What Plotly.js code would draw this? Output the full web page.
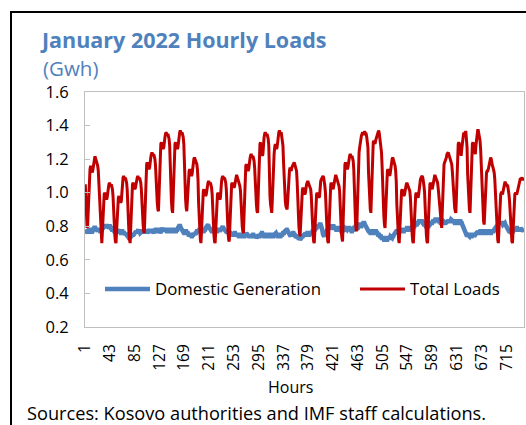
<!DOCTYPE html>
<html><head><meta charset="utf-8">
<script src="https://cdn.plot.ly/plotly-3.0.1.min.js"></script>
<style>
html,body{margin:0;padding:0;background:#fff;}
#wrap{position:relative;width:526px;height:425px;overflow:hidden;}
#chart{position:absolute;left:0;top:0;width:526px;height:425px;}
#frame{position:absolute;left:10px;top:11px;width:600px;height:600px;border-left:2px solid #000;border-top:2px solid #000;pointer-events:none;}
</style></head><body>
<div id="wrap"><div id="chart"></div><div id="frame"></div></div>
<script>
// Tick labels on the hour axis
const hourTicks = [1,43,85,127,169,211,253,295,337,379,421,463,505,547,589,631,673,715];
const yTicks = [0.2,0.4,0.6,0.8,1.0,1.2,1.4,1.6];

// Total Loads (GWh), one row of 24 hourly values per day of January 2022
const totalLoadsByDay = [
[1.05,0.94,0.84,0.79,0.81,0.92,1.05,1.12,1.14,1.16,1.15,1.13,1.12,1.14,1.17,1.19,1.21,1.21,1.20,1.18,1.17,1.16,1.13,1.06],
[0.92,0.84,0.77,0.72,0.70,0.77,0.87,0.95,0.99,1.00,0.99,0.97,0.96,0.97,1.01,1.03,1.05,1.06,1.05,1.04,1.05,1.04,1.02,0.98],
[0.87,0.81,0.75,0.71,0.70,0.77,0.86,0.93,0.97,0.98,0.97,0.95,0.94,0.95,1.03,1.07,1.09,1.10,1.09,1.08,1.09,1.08,1.06,1.02],
[0.90,0.82,0.76,0.72,0.70,0.79,0.91,1.01,1.05,1.06,1.05,1.03,1.02,1.03,1.07,1.07,1.09,1.10,1.09,1.08,1.09,1.08,1.06,1.02],
[0.92,0.86,0.81,0.77,0.76,0.86,1.01,1.13,1.17,1.18,1.17,1.15,1.14,1.15,1.20,1.21,1.23,1.24,1.23,1.22,1.23,1.22,1.20,1.16],
[1.06,0.99,0.94,0.90,0.89,0.99,1.13,1.25,1.29,1.30,1.29,1.27,1.26,1.27,1.32,1.33,1.35,1.36,1.35,1.34,1.35,1.34,1.32,1.28],
[1.13,1.03,0.95,0.90,0.88,0.98,1.13,1.25,1.29,1.30,1.29,1.27,1.26,1.27,1.32,1.34,1.36,1.37,1.36,1.35,1.36,1.35,1.33,1.29],
[1.14,1.04,0.96,0.91,0.89,0.95,1.03,1.09,1.13,1.14,1.13,1.11,1.10,1.11,1.16,1.18,1.20,1.21,1.20,1.19,1.18,1.17,1.14,1.08],
[0.94,0.84,0.77,0.72,0.70,0.78,0.89,0.97,1.01,1.02,1.01,0.99,0.98,0.99,1.03,1.04,1.06,1.07,1.06,1.05,1.06,1.05,1.03,0.99],
[0.88,0.81,0.75,0.71,0.70,0.77,0.87,0.95,0.99,1.00,0.99,0.97,0.96,0.97,1.04,1.07,1.09,1.10,1.09,1.08,1.09,1.08,1.06,1.02],
[0.90,0.82,0.76,0.72,0.71,0.80,0.92,1.01,1.05,1.06,1.05,1.04,1.03,1.04,1.07,1.08,1.10,1.10,1.09,1.08,1.07,1.06,1.04,1.01],
[0.92,0.86,0.80,0.77,0.76,0.86,1.00,1.12,1.16,1.17,1.16,1.14,1.13,1.14,1.19,1.20,1.22,1.23,1.22,1.21,1.22,1.21,1.19,1.15],
[1.05,0.98,0.93,0.89,0.88,0.98,1.13,1.25,1.29,1.30,1.28,1.24,1.22,1.23,1.31,1.33,1.35,1.36,1.35,1.34,1.35,1.34,1.32,1.28],
[1.05,0.98,0.93,0.89,0.88,0.96,1.10,1.20,1.23,1.27,1.29,1.28,1.26,1.27,1.32,1.35,1.36,1.37,1.36,1.35,1.36,1.34,1.32,1.28],
[1.18,1.08,1.00,0.95,0.92,0.91,0.90,0.95,1.03,1.10,1.13,1.15,1.14,1.13,1.15,1.16,1.17,1.18,1.18,1.17,1.16,1.15,1.13,1.07],
[0.95,0.87,0.80,0.76,0.74,0.81,0.91,0.98,1.02,1.03,1.02,1.00,0.99,1.00,1.04,1.05,1.06,1.07,1.06,1.05,1.05,1.04,1.02,0.98],
[0.87,0.81,0.75,0.71,0.70,0.77,0.87,0.95,0.99,1.00,0.99,0.98,0.97,0.98,1.04,1.07,1.08,1.09,1.10,1.10,1.09,1.07,1.04,1.00],
[0.89,0.81,0.75,0.71,0.70,0.79,0.91,1.01,1.05,1.06,1.05,1.03,1.02,1.04,1.07,1.08,1.10,1.10,1.09,1.08,1.07,1.06,1.04,1.01],
[0.90,0.82,0.76,0.73,0.71,0.83,0.99,1.13,1.17,1.18,1.17,1.15,1.14,1.15,1.19,1.20,1.22,1.23,1.22,1.21,1.22,1.21,1.19,1.14],
[0.97,0.89,0.82,0.78,0.77,0.90,1.08,1.20,1.24,1.27,1.30,1.31,1.34,1.35,1.36,1.35,1.35,1.36,1.36,1.35,1.35,1.33,1.31,1.27],
[1.12,1.02,0.95,0.90,0.88,0.99,1.15,1.27,1.30,1.31,1.30,1.29,1.31,1.32,1.34,1.35,1.36,1.37,1.36,1.33,1.30,1.28,1.24,1.16],
[1.02,0.93,0.86,0.81,0.79,0.88,1.00,1.09,1.13,1.14,1.13,1.11,1.10,1.12,1.16,1.18,1.20,1.21,1.20,1.18,1.17,1.16,1.13,1.07],
[0.93,0.84,0.77,0.72,0.70,0.78,0.89,0.97,1.01,1.02,1.01,0.99,0.98,0.99,1.02,1.04,1.05,1.06,1.05,1.04,1.04,1.03,1.01,0.97],
[0.87,0.80,0.75,0.71,0.70,0.77,0.87,0.95,0.99,1.00,0.99,0.98,0.97,0.99,1.04,1.07,1.08,1.09,1.10,1.10,1.09,1.07,1.04,1.00],
[0.89,0.81,0.75,0.71,0.70,0.79,0.91,1.01,1.05,1.06,1.05,1.03,1.02,1.04,1.07,1.09,1.10,1.10,1.09,1.08,1.08,1.06,1.03,0.99],
[0.94,0.87,0.83,0.80,0.79,0.89,1.03,1.13,1.17,1.18,1.19,1.19,1.21,1.23,1.24,1.24,1.23,1.22,1.21,1.20,1.19,1.17,1.13,1.07],
[0.99,0.94,0.91,0.89,0.88,0.98,1.13,1.25,1.29,1.30,1.29,1.26,1.23,1.22,1.26,1.31,1.34,1.35,1.35,1.36,1.36,1.36,1.33,1.27],
[1.11,1.02,0.95,0.90,0.88,0.98,1.13,1.25,1.29,1.30,1.28,1.25,1.23,1.23,1.28,1.33,1.36,1.37,1.37,1.35,1.33,1.31,1.26,1.17],
[1.03,0.94,0.87,0.83,0.81,0.88,0.99,1.08,1.12,1.13,1.13,1.14,1.16,1.17,1.19,1.21,1.20,1.17,1.16,1.15,1.14,1.12,1.08,1.01],
[0.90,0.82,0.76,0.72,0.70,0.78,0.88,0.96,0.99,1.00,1.00,0.99,1.01,1.03,1.05,1.06,1.06,1.05,1.04,1.04,1.04,1.02,0.99,0.95],
[0.87,0.80,0.75,0.71,0.70,0.77,0.87,0.95,0.99,1.00,0.99,0.99,1.00,1.02,1.04,1.06,1.07,1.08,1.08,1.09,1.09,1.08,1.08,1.09]
];

// Domestic Generation (GWh), one row of 24 hourly values per day
const domesticByDay = [
[0.78,0.77,0.77,0.76,0.76,0.77,0.77,0.78,0.78,0.77,0.77,0.76,0.77,0.78,0.79,0.79,0.80,0.79,0.78,0.78,0.77,0.77,0.78,0.78],
[0.78,0.77,0.77,0.78,0.78,0.79,0.79,0.80,0.80,0.80,0.79,0.80,0.81,0.80,0.80,0.79,0.79,0.80,0.80,0.79,0.79,0.78,0.78,0.78],
[0.78,0.77,0.77,0.78,0.77,0.77,0.76,0.77,0.78,0.78,0.77,0.77,0.76,0.76,0.77,0.77,0.76,0.76,0.76,0.75,0.76,0.76,0.75,0.75],
[0.74,0.74,0.73,0.73,0.74,0.74,0.74,0.75,0.74,0.75,0.75,0.76,0.76,0.77,0.77,0.76,0.77,0.77,0.78,0.77,0.77,0.76,0.77,0.77],
[0.77,0.77,0.76,0.76,0.77,0.78,0.78,0.77,0.77,0.76,0.77,0.77,0.78,0.78,0.77,0.77,0.78,0.77,0.77,0.76,0.76,0.77,0.77,0.78],
[0.78,0.77,0.77,0.78,0.78,0.77,0.77,0.76,0.77,0.78,0.78,0.79,0.78,0.77,0.77,0.78,0.78,0.78,0.77,0.77,0.78,0.78,0.77,0.77],
[0.77,0.77,0.78,0.78,0.77,0.77,0.78,0.78,0.78,0.77,0.77,0.78,0.78,0.79,0.79,0.80,0.81,0.80,0.79,0.78,0.78,0.77,0.77,0.76],
[0.76,0.76,0.77,0.77,0.76,0.76,0.76,0.75,0.75,0.74,0.75,0.75,0.74,0.74,0.75,0.75,0.76,0.75,0.75,0.76,0.76,0.77,0.77,0.77],
[0.77,0.78,0.78,0.77,0.77,0.78,0.78,0.78,0.77,0.77,0.78,0.78,0.79,0.79,0.80,0.81,0.81,0.80,0.79,0.78,0.78,0.78,0.77,0.77],
[0.77,0.77,0.78,0.78,0.77,0.78,0.78,0.77,0.77,0.78,0.78,0.78,0.77,0.78,0.78,0.79,0.80,0.80,0.79,0.78,0.78,0.77,0.77,0.77],
[0.76,0.76,0.77,0.77,0.76,0.76,0.76,0.75,0.76,0.76,0.75,0.75,0.75,0.76,0.76,0.75,0.75,0.74,0.75,0.75,0.74,0.74,0.75,0.75],
[0.74,0.74,0.75,0.75,0.74,0.74,0.74,0.75,0.75,0.76,0.75,0.75,0.74,0.74,0.74,0.75,0.75,0.74,0.74,0.74,0.75,0.75,0.74,0.74],
[0.74,0.74,0.73,0.74,0.74,0.75,0.75,0.74,0.74,0.75,0.75,0.76,0.76,0.75,0.75,0.74,0.74,0.74,0.75,0.75,0.74,0.74,0.74,0.75],
[0.75,0.74,0.74,0.74,0.75,0.75,0.74,0.74,0.75,0.76,0.76,0.76,0.75,0.75,0.74,0.74,0.75,0.75,0.74,0.74,0.75,0.75,0.75,0.76],
[0.76,0.76,0.77,0.78,0.78,0.78,0.78,0.77,0.76,0.75,0.75,0.74,0.74,0.75,0.75,0.75,0.76,0.76,0.75,0.75,0.74,0.74,0.74,0.73],
[0.74,0.73,0.73,0.73,0.72,0.73,0.73,0.74,0.74,0.74,0.75,0.75,0.76,0.76,0.75,0.75,0.76,0.76,0.76,0.75,0.75,0.76,0.76,0.76],
[0.76,0.77,0.77,0.78,0.78,0.78,0.79,0.79,0.79,0.80,0.80,0.80,0.80,0.81,0.81,0.81,0.80,0.79,0.77,0.75,0.74,0.74,0.75,0.76],
[0.77,0.78,0.78,0.79,0.79,0.80,0.80,0.80,0.80,0.80,0.79,0.79,0.80,0.80,0.79,0.79,0.79,0.78,0.78,0.79,0.79,0.79,0.78,0.78],
[0.78,0.78,0.77,0.77,0.77,0.78,0.78,0.78,0.79,0.78,0.78,0.78,0.79,0.79,0.79,0.79,0.79,0.78,0.78,0.77,0.77,0.78,0.78,0.79],
[0.79,0.79,0.80,0.80,0.80,0.79,0.79,0.80,0.80,0.81,0.81,0.80,0.80,0.81,0.81,0.82,0.82,0.82,0.81,0.80,0.80,0.79,0.78,0.78],
[0.77,0.77,0.77,0.76,0.76,0.77,0.77,0.77,0.76,0.76,0.77,0.77,0.77,0.77,0.76,0.76,0.75,0.75,0.75,0.74,0.74,0.74,0.73,0.73],
[0.73,0.73,0.72,0.72,0.73,0.73,0.73,0.72,0.72,0.73,0.73,0.73,0.73,0.74,0.73,0.73,0.73,0.74,0.74,0.75,0.76,0.76,0.77,0.77],
[0.77,0.77,0.77,0.78,0.78,0.77,0.77,0.77,0.78,0.78,0.78,0.77,0.77,0.78,0.78,0.78,0.78,0.79,0.79,0.78,0.78,0.78,0.79,0.79],
[0.79,0.79,0.80,0.80,0.80,0.80,0.80,0.81,0.81,0.81,0.81,0.82,0.82,0.83,0.83,0.83,0.83,0.83,0.83,0.83,0.82,0.82,0.81,0.81],
[0.81,0.80,0.80,0.80,0.80,0.80,0.80,0.81,0.81,0.82,0.82,0.82,0.82,0.83,0.83,0.83,0.83,0.84,0.84,0.84,0.84,0.84,0.84,0.83],
[0.83,0.83,0.82,0.82,0.82,0.82,0.82,0.83,0.82,0.82,0.82,0.82,0.83,0.83,0.83,0.83,0.83,0.83,0.83,0.83,0.84,0.83,0.83,0.83],
[0.83,0.83,0.82,0.82,0.83,0.83,0.83,0.83,0.82,0.82,0.83,0.83,0.83,0.82,0.82,0.81,0.80,0.78,0.77,0.76,0.75,0.75,0.74,0.74],
[0.75,0.74,0.74,0.74,0.75,0.75,0.74,0.74,0.75,0.75,0.75,0.74,0.75,0.75,0.76,0.76,0.76,0.77,0.77,0.76,0.76,0.77,0.77,0.77],
[0.77,0.77,0.76,0.76,0.77,0.77,0.77,0.77,0.76,0.76,0.77,0.77,0.77,0.77,0.77,0.76,0.76,0.77,0.77,0.77,0.77,0.78,0.78,0.79],
[0.79,0.80,0.81,0.81,0.81,0.82,0.82,0.82,0.82,0.82,0.82,0.82,0.81,0.82,0.82,0.82,0.81,0.80,0.79,0.78,0.77,0.77,0.77,0.77],
[0.76,0.76,0.76,0.76,0.77,0.77,0.77,0.78,0.78,0.78,0.78,0.79,0.79,0.78,0.78,0.78,0.78,0.78,0.79,0.78,0.78,0.78,0.77,0.78]
];

const totalLoads = totalLoadsByDay.flat();
const domestic = domesticByDay.flat();
const hours = totalLoads.map((v, i) => i + 1);

const FONT = '"Open Sans", "Noto Sans", sans-serif';
const L = 85, R = 2, T = 92, B = 98;
const W = 526 - L - R, H = 425 - T - B;
const px = x => (x - L) / W;
const py = y => (425 - B - y) / H;

const traces = [
  {x: hours, y: domestic, type: 'scatter', mode: 'lines', name: 'Domestic Generation',
   line: {color: '#4F81BD', width: 4.5}, legend: 'legend'},
  {x: hours, y: totalLoads, type: 'scatter', mode: 'lines', name: 'Total Loads',
   line: {color: '#C00000', width: 3}, legend: 'legend2'}
];

const legendStyle = {orientation: 'h', xanchor: 'left', yanchor: 'middle',
  font: {size: 16.8, family: FONT, color: '#000'}, bgcolor: 'rgba(0,0,0,0)', itemwidth: 45};

const layout = {
  width: 526, height: 425,
  margin: {l: L, r: R, t: T, b: B, pad: 0},
  paper_bgcolor: '#fff', plot_bgcolor: '#fff',
  font: {family: FONT, color: '#000', size: 16},
  showlegend: true,
  legend: Object.assign({}, legendStyle, {x: px(100), y: py(289)}),
  legend2: Object.assign({}, legendStyle, {x: px(355), y: py(289)}),
  xaxis: {range: [0.5, 744.5], tickmode: 'array', tickvals: hourTicks,
          ticktext: hourTicks.map(String), tickangle: -90,
          showline: true, linecolor: '#BFBFBF', linewidth: 1, mirror: true,
          ticks: '', showgrid: false, zeroline: false, ticklabelstandoff: 10,
          tickfont: {size: 15.5, family: FONT, color: '#000'}},
  yaxis: {range: [0.2, 1.6], tickmode: 'array', tickvals: yTicks,
          ticktext: yTicks.map(v => v.toFixed(1)),
          showline: true, linecolor: '#BFBFBF', linewidth: 1, mirror: true,
          ticks: 'inside', ticklen: 5, tickcolor: '#BFBFBF',
          showgrid: false, zeroline: false, ticklabelstandoff: 12,
          tickfont: {size: 16.5, family: FONT, color: '#000'}},
  annotations: [
    {text: '<b>January 2022 Hourly Loads</b>', xref: 'paper', yref: 'paper',
     x: px(38), y: py(39), xanchor: 'left', yanchor: 'middle', showarrow: false,
     font: {size: 21.5, family: FONT, color: '#4F81BD'}},
    {text: '(Gwh)', xref: 'paper', yref: 'paper',
     x: px(41), y: py(68), xanchor: 'left', yanchor: 'middle', showarrow: false,
     font: {size: 20.5, family: FONT, color: '#4F81BD'}},
    {text: 'Hours', xref: 'paper', yref: 'paper',
     x: px(290), y: py(387), xanchor: 'center', yanchor: 'middle', showarrow: false,
     font: {size: 16, family: FONT, color: '#000'}},
    {text: 'Sources: Kosovo authorities and IMF staff calculations.', xref: 'paper', yref: 'paper',
     x: px(25), y: py(413), xanchor: 'left', yanchor: 'middle', showarrow: false,
     font: {size: 18.2, family: FONT, color: '#000'}}
  ]
};

Plotly.newPlot('chart', traces, layout, {staticPlot: true, displayModeBar: false});
</script>
</body></html>
